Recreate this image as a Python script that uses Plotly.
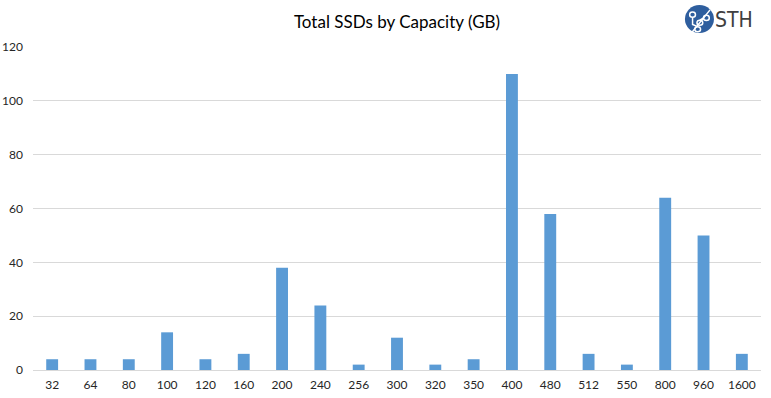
import plotly.graph_objects as go

capacities = ["32", "64", "80", "100", "120", "160", "200", "240", "256", "300",
              "320", "350", "400", "480", "512", "550", "800", "960", "1600"]
counts = [4, 4, 4, 14, 4, 6, 38, 24, 2, 12, 2, 4, 110, 58, 6, 2, 64, 50, 6]
y_ticks = [0, 20, 40, 60, 80, 100, 120]

FONT = "Lato"

fig = go.Figure(go.Bar(x=capacities, y=counts, marker_color="#5b9bd5",
                       marker_line_width=0, hoverinfo="x+y"))

fig.update_layout(
    width=771, height=398,
    margin=dict(l=33, r=10, t=47, b=28),
    paper_bgcolor="white", plot_bgcolor="white",
    bargap=0.69,
    showlegend=False,
    title=dict(text="Total SSDs by Capacity (GB)", x=0.5, xref="paper", y=0.945,
               yanchor="middle", font=dict(family=FONT, size=17, color="#000000")),
    font=dict(family=FONT, size=12, color="#404040"),
)
fig.update_xaxes(type="category", showgrid=False, showline=True, linecolor="#d9d9d9",
                 linewidth=1, ticks="", ticklabelstandoff=4, automargin=False,
                 tickfont=dict(size=12, color="#262626"))
fig.update_yaxes(range=[0, 120], tickvals=y_ticks, showgrid=True, gridcolor="#d9d9d9",
                 zeroline=False, showline=False, ticks="", ticklabelstandoff=9,
                 automargin=False, tickfont=dict(size=12, color="#262626"))

# STH logo
fig.add_shape(type="circle", xref="paper", yref="paper",
              x0=0.8955, x1=0.9354, y0=1.043, y1=1.130,
              fillcolor="#2e5e9e", line=dict(width=0))
for (cx, cy) in [(0.906, 1.10), (0.916, 1.075), (0.925, 1.09), (0.913, 1.055)]:
    fig.add_shape(type="circle", xref="paper", yref="paper",
                  x0=cx - 0.004, x1=cx + 0.004, y0=cy - 0.008, y1=cy + 0.008,
                  fillcolor="#2e5e9e", line=dict(color="white", width=1.5))
fig.add_shape(type="path", xref="paper", yref="paper",
              path="M 0.906,1.092 L 0.906,1.07 L 0.913,1.063 M 0.916,1.083 L 0.921,1.09 M 0.93,1.115 L 0.905,1.045",
              line=dict(color="white", width=1.5))
fig.add_annotation(text="STH", xref="paper", yref="paper", x=0.934, y=1.083,
                   xanchor="left", yanchor="middle", showarrow=False,
                   font=dict(family="Liberation Sans Narrow, DejaVu Sans Condensed", size=21,
                             color="#404040"))

fig.write_html("out.html", config={"displayModeBar": False},
               post_script="document.body.style.margin='0';document.body.style.overflow='hidden';")
